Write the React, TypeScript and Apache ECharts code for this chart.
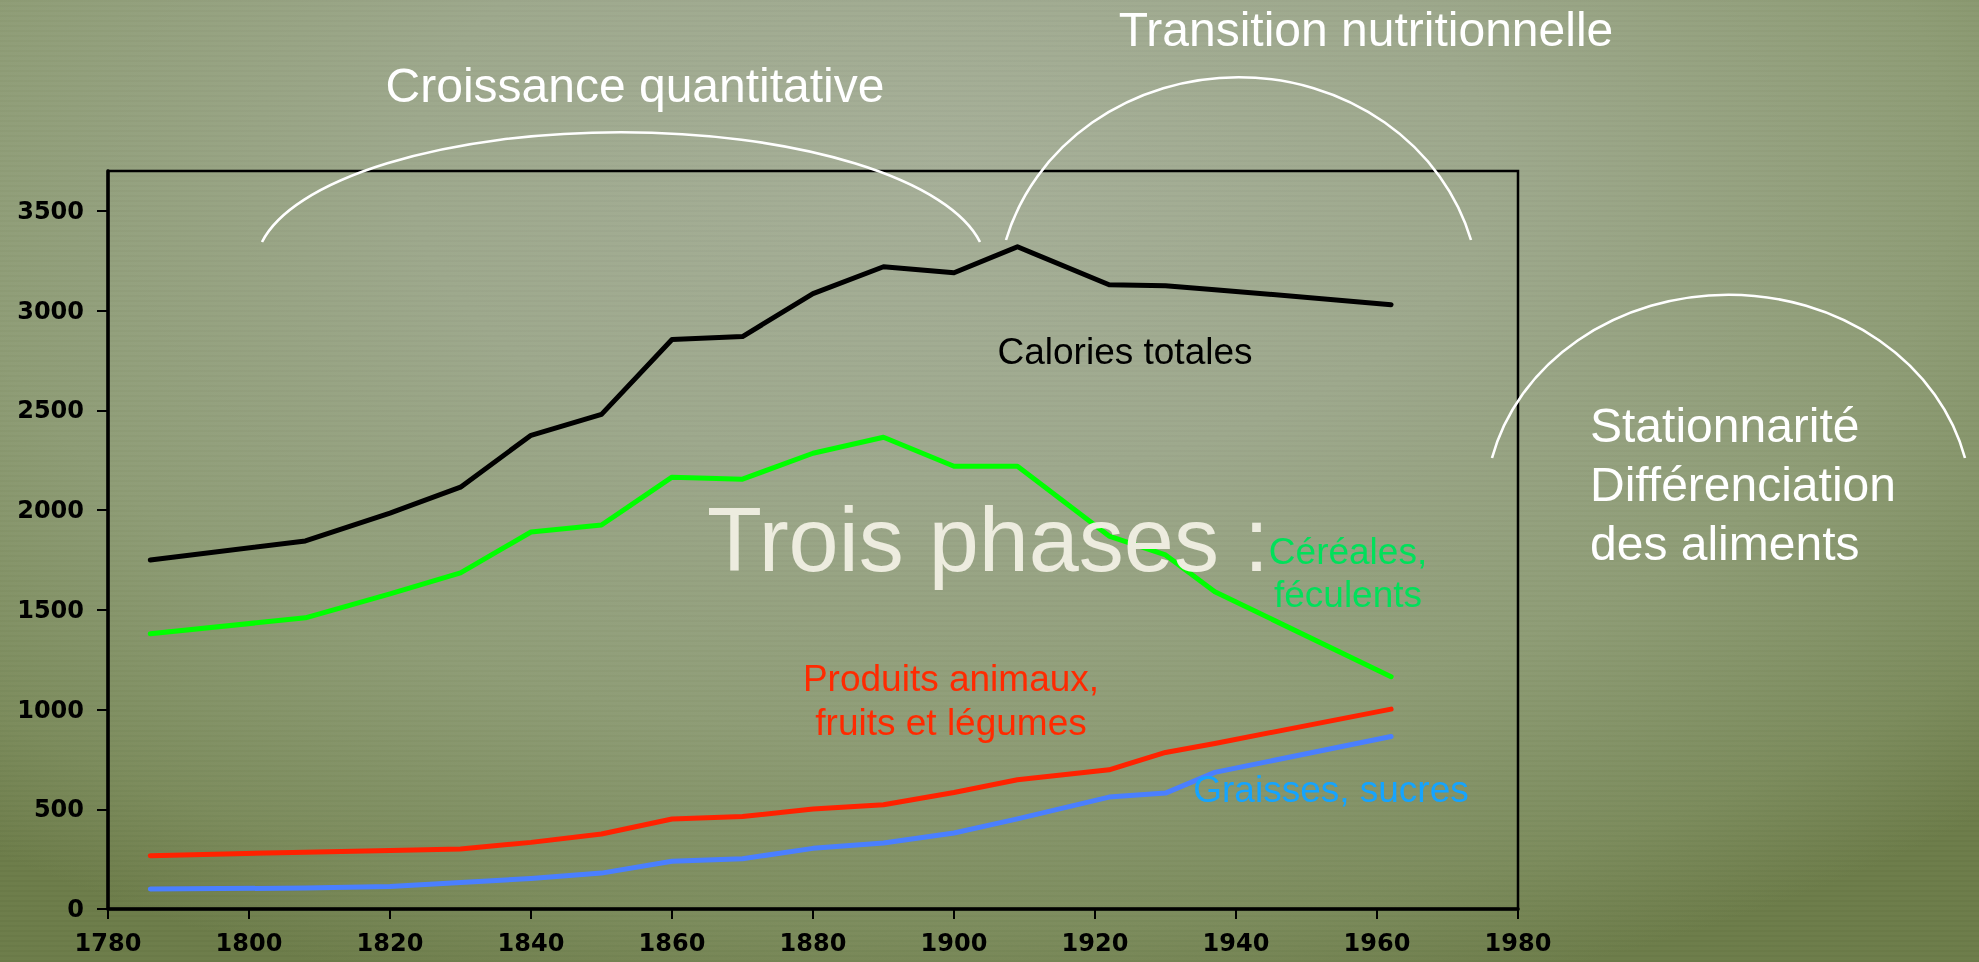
import React, { useEffect, useRef } from "react";
import * as echarts from "echarts";

// Years (x) and daily calories per series
const years = [1786, 1808, 1820, 1830, 1840, 1850, 1860, 1870, 1880, 1890, 1900, 1909, 1922, 1930, 1937, 1962];
const caloriesTotales = [1750, 1845, 1985, 2115, 2375, 2480, 2855, 2870, 3085, 3220, 3190, 3320, 3130, 3125, 3105, 3030];
const cerealesFeculents = [1380, 1460, 1580, 1685, 1890, 1925, 2165, 2155, 2285, 2365, 2220, 2220, 1870, 1775, 1590, 1165];
const produitsAnimaux = [267, 285, 293, 301, 334, 376, 451, 464, 501, 523, 584, 648, 698, 785, 830, 1002];
const graissesSucres = [100, 105, 113, 133, 153, 180, 239, 252, 304, 331, 381, 452, 561, 581, 685, 865];

const yTicks = [0, 500, 1000, 1500, 2000, 2500, 3000, 3500];

const ARC1 = "M 262 242 A 365 134 0 0 1 980 242";
const ARC2 = "M 1006 240 A 241 221 0 0 1 1471 240";
const ARC3 = "M 1492 458 A 243 212 0 0 1 1965 458";

let registered = false;
function registerArcs() {
  if (registered) return;
  echarts.graphic.registerShape("arcPhase1", echarts.graphic.extendPath(ARC1, {}));
  echarts.graphic.registerShape("arcPhase2", echarts.graphic.extendPath(ARC2, {}));
  echarts.graphic.registerShape("arcPhase3", echarts.graphic.extendPath(ARC3, {}));
  registered = true;
}

const pairs = (vals: number[]) => years.map((y, i) => [y, vals[i]]);

export default function App() {
  const ref = useRef<HTMLDivElement>(null);
  useEffect(() => {
    if (!ref.current) return;
    registerArcs();
    const chart = echarts.init(ref.current, undefined, { renderer: "svg" });
    const sans = "'Liberation Sans', Arial, sans-serif";
    const arcStyle = { stroke: "#ffffff", lineWidth: 2.6, fill: "none" };
    const lineSeries = (name: string, vals: number[], color: string) => ({
      name,
      type: "line",
      data: pairs(vals),
      showSymbol: false,
      symbol: "none",
      lineStyle: { color, width: 5, cap: "round", join: "round" },
      z: 3,
    });
    chart.setOption({
      animation: false,
      backgroundColor: "transparent",
      grid: {
        left: 108,
        top: 171,
        right: 461,
        bottom: 53,
        show: true,
        borderColor: "#000",
        borderWidth: 2.5,
        backgroundColor: "transparent",
      },
      xAxis: {
        type: "value",
        min: 1780,
        max: 1980,
        interval: 20,
        splitLine: { show: false },
        axisLine: { show: true, lineStyle: { color: "#000", width: 3.5 } },
        axisTick: { show: true, inside: false, length: 10, lineStyle: { color: "#000", width: 2 } },
        axisLabel: {
          margin: 22,
          color: "#000",
          fontFamily: "'DejaVu Sans', Verdana, sans-serif",
          fontWeight: "bold",
          fontSize: 24,
          formatter: (v: number) => String(v),
        },
      },
      yAxis: {
        type: "value",
        min: 0,
        max: 3700,
        interval: 500,
        splitLine: { show: false },
        axisLine: { show: true, lineStyle: { color: "#000", width: 3.5 } },
        axisTick: {
          show: true,
          inside: false,
          length: 11,
          lineStyle: { color: "#000", width: 2 },
          customValues: yTicks,
        },
        axisLabel: {
          margin: 24,
          color: "#000",
          fontFamily: "'DejaVu Sans', Verdana, sans-serif",
          fontWeight: "bold",
          fontSize: 24,
          customValues: yTicks,
          formatter: (v: number) => String(v),
        },
      },
      series: [
        lineSeries("Calories totales", caloriesTotales, "#000000"),
        lineSeries("Céréales, féculents", cerealesFeculents, "#00ff00"),
        lineSeries("Produits animaux, fruits et légumes", produitsAnimaux, "#ff2200"),
        lineSeries("Graisses, sucres", graissesSucres, "#4a7fff"),
      ],
      graphic: [
        { type: "arcPhase1", x: 0, y: 0, style: arcStyle, z: 10 },
        { type: "arcPhase2", x: 0, y: 0, style: arcStyle, z: 10 },
        { type: "arcPhase3", x: 0, y: 0, style: arcStyle, z: 10 },
        {
          type: "text",
          x: 635,
          y: 85,
          z: 10,
          style: {
            text: "Croissance quantitative",
            fill: "#ffffff",
            font: `48px ${sans}`,
            textAlign: "center",
            textVerticalAlign: "middle",
            shadowColor: "rgba(40,50,30,0.5)",
            shadowBlur: 2,
            shadowOffsetX: 1,
            shadowOffsetY: 1,
          },
        },
        {
          type: "text",
          x: 1366,
          y: 29,
          z: 10,
          style: {
            text: "Transition nutritionnelle",
            fill: "#ffffff",
            font: `48px ${sans}`,
            textAlign: "center",
            textVerticalAlign: "middle",
            shadowColor: "rgba(0,0,0,0.85)",
            shadowBlur: 1,
            shadowOffsetX: 2,
            shadowOffsetY: 2,
          },
        },
        {
          type: "text",
          x: 1125,
          y: 351,
          z: 10,
          style: {
            text: "Calories totales",
            fill: "#000000",
            font: `37px ${sans}`,
            textAlign: "center",
            textVerticalAlign: "middle",
          },
        },
        {
          type: "text",
          x: 707,
          y: 540,
          z: 10,
          style: {
            text: "Trois phases :",
            fill: "#edecdf",
            font: `90px ${sans}`,
            textAlign: "left",
            textVerticalAlign: "middle",
            shadowColor: "rgba(30,35,20,0.6)",
            shadowBlur: 4,
            shadowOffsetX: 3,
            shadowOffsetY: 3,
          },
        },
        {
          type: "text",
          x: 1348,
          y: 573,
          z: 11,
          style: {
            text: "Céréales,\nféculents",
            fill: "#00e05a",
            font: `37px ${sans}`,
            lineHeight: 43,
            textAlign: "center",
            textVerticalAlign: "middle",
          },
        },
        {
          type: "text",
          x: 951,
          y: 700,
          z: 10,
          style: {
            text: "Produits animaux,\nfruits et légumes",
            fill: "#ff2a00",
            font: `37px ${sans}`,
            lineHeight: 44,
            textAlign: "center",
            textVerticalAlign: "middle",
          },
        },
        {
          type: "text",
          x: 1331,
          y: 789,
          z: 10,
          style: {
            text: "Graisses, sucres",
            fill: "#14a4ff",
            font: `37px ${sans}`,
            textAlign: "center",
            textVerticalAlign: "middle",
          },
        },
        {
          type: "text",
          x: 1590,
          y: 484,
          z: 10,
          style: {
            text: "Stationnarité\nDifférenciation\ndes aliments",
            fill: "#ffffff",
            font: `48px ${sans}`,
            lineHeight: 59,
            textAlign: "left",
            textVerticalAlign: "middle",
          },
        },
      ],
    });
    return () => chart.dispose();
  }, []);

  return (
    <div
      style={{
        position: "fixed",
        left: 0,
        top: 0,
        width: 1979,
        height: 962,
        background:
          "repeating-linear-gradient(180deg, rgba(0,0,0,0.015) 0px, rgba(0,0,0,0.015) 2px, rgba(255,255,255,0.012) 2px, rgba(255,255,255,0.012) 5px), radial-gradient(ellipse 78% 90% at 48% 18%, #a6af98 0%, #9da88c 35%, #8e9c75 65%, #7b8b5b 88%, #6c7c49 100%)",
      }}
    >
      <div ref={ref} style={{ width: 1979, height: 962 }} />
    </div>
  );
}
